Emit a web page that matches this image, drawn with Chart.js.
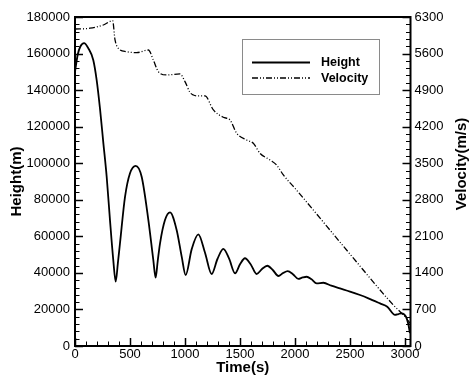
<!DOCTYPE html>
<html lang="en">
<head>
    <meta charset="UTF-8">
    <title>Height and Velocity</title>
    <script src="https://cdn.jsdelivr.net/npm/chart.js"></script>
    <style>
        body { margin: 0; background: #fff; }
        canvas { display: block; }
    </style>
</head>
<body>
<canvas id="flightChart" width="470" height="377"></canvas>

<script>
    // Height curve (time in s, height in m)
    const heightTime = [0, 25, 50, 82, 120, 166, 197, 227, 258, 288, 318, 348, 370, 390, 409, 455, 500, 552, 606, 667,
        712, 733, 752, 773, 818, 864, 924, 970, 1006, 1061, 1121, 1182, 1242, 1295, 1348, 1401, 1455, 1500, 1545, 1598,
        1651, 1700, 1748, 1798, 1849, 1891, 1933, 1981, 2030, 2070, 2106, 2150, 2197, 2258, 2330, 2409, 2500, 2591, 2667,
        2773, 2839, 2909, 2940, 2970, 3009, 3030, 3045];
    const heightValues = [150000, 159500, 164000, 165700, 163000, 156500, 145500, 130000, 110900, 92600, 68900, 47000,
        35200, 45500, 56200, 81700, 94500, 98600, 92600, 68900, 47000, 37400, 46500, 56200, 68900, 73100, 63500, 48900,
        38800, 53000, 61100, 51000, 39400, 47600, 53100, 47800, 39800, 44700, 48000, 44600, 39400, 42100, 43900, 41600,
        38300, 39900, 41000, 39300, 36700, 37500, 37900, 36500, 34300, 34600, 33000, 31500, 29800, 27900, 26100, 23300,
        21500, 17000, 17500, 17900, 16000, 12000, 7000];

    // Velocity curve (time in s, velocity in m/s)
    const velocityTime = [0, 136, 258, 342, 364, 394, 470, 561, 667, 712, 758, 833, 955, 1000, 1045, 1076, 1121, 1182,
        1258, 1348, 1409, 1470, 1561, 1621, 1682, 1773, 1833, 1894, 2000, 2500, 2894, 2955, 3015, 3045];
    const velocityValues = [6070, 6085, 6147, 6230, 5860, 5700, 5636, 5617, 5668, 5477, 5253, 5190, 5209, 5062, 4858,
        4807, 4788, 4788, 4520, 4380, 4328, 4073, 3945, 3882, 3690, 3562, 3466, 3275, 3020, 1760, 785, 657, 530, 435];

    // tick labels
    const timeTicks = [0, 500, 1000, 1500, 2000, 2500, 3000];
    const heightTicks = [0, 20000, 40000, 60000, 80000, 100000, 120000, 140000, 160000, 180000];
    const velocityTicks = [0, 700, 1400, 2100, 2800, 3500, 4200, 4900, 5600, 6300];

    const xTitle = 'Time(s)';
    const leftTitle = 'Height(m)';
    const rightTitle = 'Velocity(m/s)';

    const toPoints = (xs, ys) => xs.map((x, i) => ({x: x, y: ys[i]}));
    const setTicks = list => s => { s.ticks = list.map(v => ({value: v})); };

    // frame, inward ticks, right title and legend box
    const framePlugin = {
        id: 'framePlugin',
        afterDraw(chart) {
            const ctx = chart.ctx;
            const a = chart.chartArea;
            const sx = chart.scales.x, sy = chart.scales.y, sy1 = chart.scales.y1;
            ctx.save();
            ctx.strokeStyle = '#000';

            function tick(x1, y1, x2, y2, w) {
                ctx.lineWidth = w;
                ctx.beginPath();
                ctx.moveTo(x1, y1);
                ctx.lineTo(x2, y2);
                ctx.stroke();
            }

            for (let v = 0; v <= 3050; v += 100) {
                const px = Math.round(sx.getPixelForValue(v)) + 0.5;
                const major = v % 500 === 0;
                tick(px, a.bottom, px, a.bottom - (major ? 8 : 4.5), major ? 1.5 : 1);
            }
            for (let v = 0; v <= 180000; v += 4000) {
                const py = Math.round(sy.getPixelForValue(v)) + 0.5;
                const major = v % 20000 === 0;
                tick(a.left, py, a.left + (major ? 8 : 4.5), py, major ? 1.5 : 1);
            }
            for (let v = 0; v <= 6300; v += 140) {
                const py = Math.round(sy1.getPixelForValue(v)) + 0.5;
                const major = v % 700 === 0;
                tick(a.right, py, a.right - (major ? 8 : 4.5), py, major ? 1.5 : 1);
            }

            ctx.lineWidth = 2;
            ctx.strokeRect(a.left, a.top, a.right - a.left, a.bottom - a.top);

            // right axis title, reading bottom to top
            ctx.fillStyle = '#000';
            ctx.font = 'bold 15px "Liberation Sans", Arial, sans-serif';
            ctx.textAlign = 'center';
            ctx.textBaseline = 'middle';
            ctx.save();
            ctx.translate(462, 164);
            ctx.rotate(-Math.PI / 2);
            ctx.fillText(rightTitle, 0, 0);
            ctx.restore();

            // legend
            const bx = 242, by = 39.5, bw = 137, bh = 55;
            ctx.fillStyle = '#fff';
            ctx.fillRect(bx, by, bw, bh);
            ctx.strokeStyle = '#8a8a8a';
            ctx.lineWidth = 1;
            ctx.strokeRect(bx + 0.5, by, bw, bh);
            ctx.font = 'bold 12.5px "Liberation Sans", Arial, sans-serif';
            ctx.textAlign = 'left';
            chart.data.datasets.forEach((ds, i) => {
                const ly = 62.5 + i * 15.5;
                ctx.strokeStyle = '#000';
                ctx.lineWidth = ds.borderWidth;
                ctx.setLineDash(ds.borderDash || []);
                ctx.beginPath();
                ctx.moveTo(252, ly);
                ctx.lineTo(310, ly);
                ctx.stroke();
                ctx.setLineDash([]);
                ctx.fillStyle = '#000';
                ctx.fillText(ds.label, 321, ly + 0.5);
            });
            ctx.restore();
        }
    };

    const tickFont = {family: '"Liberation Sans", Arial, sans-serif', size: 13};
    const titleFont = {family: '"Liberation Sans", Arial, sans-serif', size: 15, weight: 'bold'};
    const plain = v => String(v);
    const noGrid = {display: false, drawTicks: false, tickLength: 0};

    new Chart(document.getElementById('flightChart').getContext('2d'), {
        type: 'line',
        data: {
            datasets: [{
                label: 'Height',
                data: toPoints(heightTime, heightValues),
                borderColor: '#000',
                borderWidth: 1.8,
                pointRadius: 0,
                cubicInterpolationMode: 'monotone',
                yAxisID: 'y'
            }, {
                label: 'Velocity',
                data: toPoints(velocityTime, velocityValues),
                borderColor: '#000',
                borderWidth: 1.3,
                borderDash: [6, 2, 1, 2, 1, 2],
                pointRadius: 0,
                cubicInterpolationMode: 'monotone',
                yAxisID: 'y1'
            }]
        },
        options: {
            responsive: false,
            animation: false,
            layout: {padding: {top: 17, left: 0, right: 0, bottom: 0}},
            plugins: {legend: {display: false}, tooltip: {enabled: false}},
            scales: {
                x: {
                    type: 'linear',
                    min: 0,
                    max: 3050,
                    grid: noGrid,
                    border: {display: false},
                    ticks: {font: tickFont, color: '#000', padding: 1, maxRotation: 0,
                        autoSkip: false, callback: plain},
                    afterBuildTicks: setTicks(timeTicks),
                    afterFit: s => { s.height = 31; },
                    title: {display: true, text: xTitle, font: titleFont, color: '#000', padding: {top: 0, bottom: 0}}
                },
                y: {
                    position: 'left',
                    min: 0,
                    max: 180000,
                    grid: noGrid,
                    border: {display: false},
                    ticks: {font: tickFont, color: '#000', padding: 5, autoSkip: false, callback: plain},
                    afterBuildTicks: setTicks(heightTicks),
                    afterFit: s => { s.width = 75; },
                    title: {display: true, text: leftTitle, font: titleFont, color: '#000', padding: {top: 8, bottom: 0}}
                },
                y1: {
                    position: 'right',
                    min: 0,
                    max: 6300,
                    grid: noGrid,
                    border: {display: false},
                    ticks: {font: tickFont, color: '#000', padding: 4, autoSkip: false, callback: plain},
                    afterBuildTicks: setTicks(velocityTicks),
                    afterFit: s => { s.width = 59.5; }
                }
            }
        },
        plugins: [framePlugin]
    });
</script>
</body>
</html>
